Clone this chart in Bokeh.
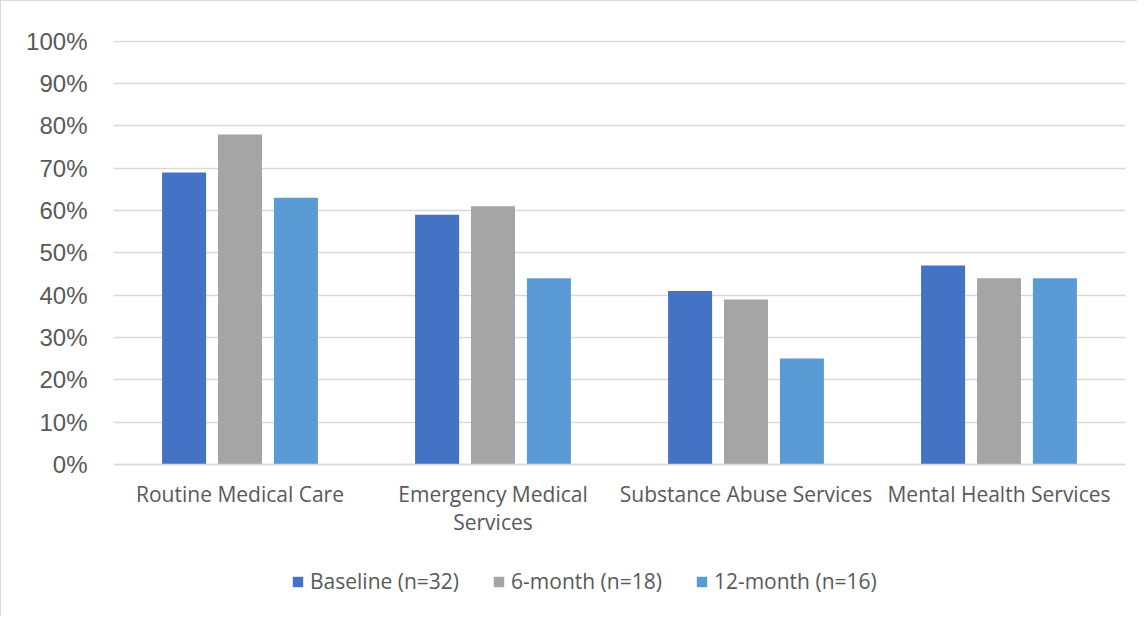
from bokeh.plotting import figure
from bokeh.models import (Range1d, FixedTicker, NumeralTickFormatter, Legend, LegendItem,
                          ColumnDataSource)
from bokeh.embed import file_html
from bokeh.resources import INLINE

categories = ["Routine Medical Care", "Emergency Medical\nServices",
              "Substance Abuse Services", "Mental Health Services"]
series_names = ["Baseline (n=32)", "6-month (n=18)", "12-month (n=16)"]
baseline = [0.69, 0.59, 0.41, 0.47]
six_month = [0.78, 0.61, 0.39, 0.44]
twelve_month = [0.63, 0.44, 0.25, 0.44]
colors = ["#4472C4", "#A5A5A5", "#5B9BD5"]
y_ticks = [0.0, 0.1, 0.2, 0.3, 0.4, 0.5, 0.6, 0.7, 0.8, 0.9, 1.0]

W, H = 1137, 616
TOP, BOTTOM0 = 39, 462           # pixel rows of 100% and 0%
unit = BOTTOM0 - TOP             # pixels per 100%
y_end = 1.002
y_start = y_end - (H - TOP) / unit

p = figure(width=W, height=H, output_backend="svg", toolbar_location=None,
           x_range=Range1d(0, len(categories)), y_range=Range1d(y_start, y_end),
           min_border_left=112, min_border_right=13, min_border_top=TOP,
           min_border_bottom=0)
p.outline_line_color = None
p.background_fill_color = "white"
p.border_fill_color = "white"
p.styles = {"border-left": "1px solid #d9d9d9", "border-top": "1px solid #d9d9d9"}

centers = [i + 0.5 for i in range(len(categories))]
offsets = [-0.221, 0.0, 0.221]
bar_w = 0.174
renderers = []
for vals, off, col in zip([baseline, six_month, twelve_month], offsets, colors):
    src = ColumnDataSource(dict(x=[c + off for c in centers], top=vals))
    r = p.vbar(x="x", top="top", width=bar_w, bottom=0, source=src,
               fill_color=col, line_color=None)
    renderers.append(r)

# x axis pinned at 0
p.xaxis.fixed_location = 0
p.xaxis.ticker = FixedTicker(ticks=centers)
p.xaxis.major_label_overrides = {c: lab for c, lab in zip(centers, categories)}
p.xaxis.axis_line_color = "#D9D9D9"
p.xaxis.axis_line_width = 1.5
p.xaxis.major_tick_line_color = None
p.xaxis.minor_tick_line_color = None
p.xaxis.major_label_text_font = "Open Sans"
p.xaxis.major_label_text_font_size = "21px"
p.xaxis.major_label_text_color = "#595959"
p.xaxis.major_label_text_line_height = 1.0
p.xaxis.major_label_standoff = 10

yt = FixedTicker(ticks=y_ticks)
p.yaxis.ticker = yt
p.yaxis.formatter = NumeralTickFormatter(format="0%")
p.yaxis.axis_line_color = None
p.yaxis.major_tick_line_color = None
p.yaxis.minor_tick_line_color = None
p.yaxis.major_label_text_font = "Liberation Sans"
p.yaxis.major_label_text_font_size = "24px"
p.yaxis.major_label_text_color = "#595959"
p.yaxis.major_label_standoff = 20

p.xgrid.grid_line_color = None
p.ygrid.ticker = yt
p.ygrid.grid_line_color = "#D9D9D9"
p.ygrid.grid_line_width = 1.5

legend = Legend(items=[LegendItem(label=n, renderers=[r]) for n, r in zip(series_names, renderers)],
                orientation="horizontal", location=(178, 22),
                glyph_width=13, glyph_height=13, label_standoff=6, spacing=33,
                label_text_font="Open Sans", label_text_font_size="21px",
                label_text_color="#595959", border_line_color=None,
                background_fill_alpha=0, padding=0, margin=0)
p.add_layout(legend, "center")

open("out.html", "w").write(file_html(p, INLINE))
